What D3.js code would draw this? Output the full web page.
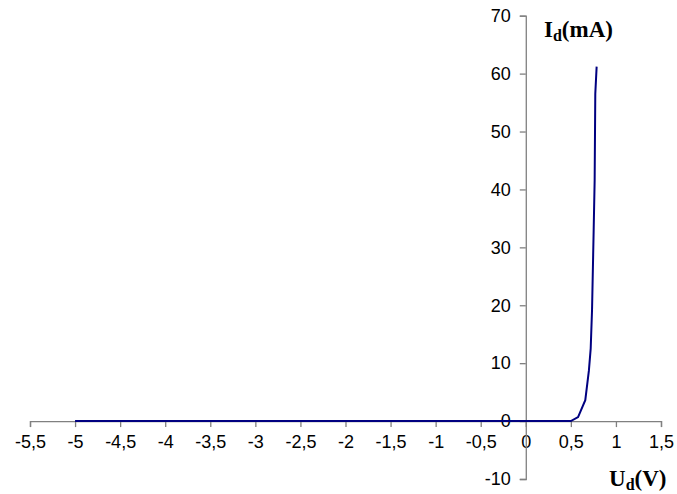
<!DOCTYPE html>
<html>
<head>
<meta charset="utf-8">
<script src="https://cdn.jsdelivr.net/npm/d3@7"></script>
<style>
  body { margin: 0; background: #fff; }
  .tick text { font-family: "Liberation Sans", Arial, sans-serif; font-size: 18px; fill: #000; }
  .axis path, .axis line { stroke: #808080; stroke-width: 1.3; }
  .lbl { font-family: "Liberation Serif", "Times New Roman", serif; font-weight: bold; font-size: 23px; }
</style>
</head>
<body>
<svg id="chart" width="677" height="494"></svg>
<script>
// diode characteristic
var voltage = [-5, -4, -3, -2, -1, 0, 0.5, 0.58, 0.66, 0.70, 0.72, 0.735, 0.753, 0.764, 0.771, 0.786]
var current = [0, 0, 0, 0, 0, 0, 0, 0.7, 3.6, 8.7, 12.5, 19.2, 32.9, 41.6, 56.5, 61.2]
var xTicks = [-5.5, -5, -4.5, -4, -3.5, -3, -2.5, -2, -1.5, -1, -0.5, 0, 0.5, 1, 1.5]
var yTicks = [-10, 0, 10, 20, 30, 40, 50, 60, 70]

var svg = d3.select('#chart')

var xScale = d3.scaleLinear().domain([-5.5, 1.5]).range([30, 661])
var yScale = d3.scaleLinear().domain([-10, 70]).range([479, 15.7])

var comma = function (d) { return String(d).replace('.', ',') }

var xAxis = svg.append('g')
    .attr('class', 'axis')
    .attr('transform', 'translate(0,' + yScale(0) + ')')
    .call(d3.axisBottom(xScale).tickValues(xTicks).tickSize(6).tickPadding(8).tickFormat(comma))

var yAxis = svg.append('g')
    .attr('class', 'axis')
    .attr('transform', 'translate(' + xScale(0) + ',0)')
    .call(d3.axisLeft(yScale).tickValues(yTicks).tickSize(6).tickPadding(9).tickFormat(comma))

svg.selectAll('.axis .domain').attr('stroke', '#808080')

var points = voltage.map(function (v, i) { return [v, current[i]] })

var line = d3.line()
    .x(function (d) { return xScale(d[0]) })
    .y(function (d) { return yScale(d[1]) })

svg.append('path')
    .datum(points)
    .attr('d', line)
    .attr('fill', 'none')
    .attr('stroke', '#000080')
    .attr('stroke-width', 2)

// axis titles with subscript d
var yTitle = svg.append('text').attr('class', 'lbl').attr('x', 544).attr('y', 37)
yTitle.append('tspan').text('I')
yTitle.append('tspan').attr('font-size', '16px').attr('dy', 4).text('d')
yTitle.append('tspan').attr('dy', -4).text('(mA)')

var xTitle = svg.append('text').attr('class', 'lbl').attr('x', 609).attr('y', 486)
xTitle.append('tspan').text('U')
xTitle.append('tspan').attr('font-size', '16px').attr('dy', 4).text('d')
xTitle.append('tspan').attr('dy', -4).text('(V)')
</script>
</body>
</html>
